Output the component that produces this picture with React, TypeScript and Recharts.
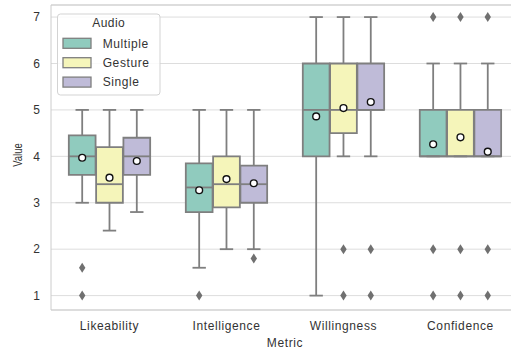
import React from 'react';
import {
  ComposedChart,
  XAxis,
  YAxis,
  CartesianGrid,
  ReferenceArea,
  ReferenceLine,
  Scatter,
} from 'recharts';

// categories and hue levels
const metrics = ['Likeability', 'Intelligence', 'Willingness', 'Confidence'];
const audioTypes = ['Multiple', 'Gesture', 'Single'];
const audioColors = ['#90cbbe', '#f5f5ba', '#bfbbd8'];
const yTicks = [1, 2, 3, 4, 5, 6, 7];

// box stats, one row per audio type, one value per metric
const whiskerLow = [
  [3.0, 1.6, 1.0, 4.0],
  [2.4, 2.0, 4.0, 4.0],
  [2.8, 2.0, 4.0, 4.0],
];
const quartile1 = [
  [3.6, 2.8, 4.0, 4.0],
  [3.0, 2.9, 4.5, 4.0],
  [3.6, 3.0, 5.0, 4.0],
];
const medians = [
  [4.0, 3.33, 5.0, 4.0],
  [3.4, 3.4, 5.0, 4.0],
  [4.0, 3.4, 5.0, 4.0],
];
const quartile3 = [
  [4.45, 3.85, 6.0, 5.0],
  [4.2, 4.0, 6.0, 5.0],
  [4.4, 3.8, 6.0, 5.0],
];
const whiskerHigh = [
  [5.0, 5.0, 7.0, 6.0],
  [5.0, 5.0, 7.0, 6.0],
  [5.0, 5.0, 7.0, 6.0],
];
const means = [
  [3.97, 3.27, 4.86, 4.26],
  [3.54, 3.51, 5.04, 4.41],
  [3.9, 3.42, 5.17, 4.1],
];
const outliers = [
  [[1.6, 1.0], [1.0], [], [7, 2, 1]],
  [[], [], [2, 1], [7, 2, 1]],
  [[], [1.8], [2, 1], [7, 2, 1]],
];

const LINE = '#7f7f7f';
const FONT = '"Liberation Sans", Arial, sans-serif';
const HUE_STEP = 0.7 / 3;
const BOX_HALF = (HUE_STEP * 0.98) / 2;
const CAP_HALF = BOX_HALF / 2;

const boxes = audioTypes.flatMap((name, h) =>
  metrics.map((m, i) => ({
    id: `${h}-${i}`,
    x: i + (h - 1) * HUE_STEP,
    color: audioColors[h],
    low: whiskerLow[h][i],
    q1: quartile1[h][i],
    med: medians[h][i],
    q3: quartile3[h][i],
    high: whiskerHigh[h][i],
  }))
);

const meanPoints = audioTypes.flatMap((name, h) =>
  metrics.map((m, i) => ({ x: i + (h - 1) * HUE_STEP, y: means[h][i] }))
);

const outlierPoints = audioTypes.flatMap((name, h) =>
  metrics.flatMap((m, i) =>
    outliers[h][i].map((v) => ({ x: i + (h - 1) * HUE_STEP, y: v }))
  )
);

const Diamond = (props: any) => {
  const { cx, cy } = props;
  return (
    <path
      d={`M${cx},${cy - 5} L${cx + 3.2},${cy} L${cx},${cy + 5} L${cx - 3.2},${cy} Z`}
      fill="#707070"
    />
  );
};

const MeanDot = (props: any) => (
  <circle cx={props.cx} cy={props.cy} r={3.4} fill="#fff" stroke="#111" strokeWidth={1.4} />
);

export default function App() {
  return (
    <div style={{ position: 'absolute', left: 0, top: 0, width: 511, height: 351, background: '#fff' }}>
      <ComposedChart width={511} height={351} margin={{ top: 5, right: 0, left: 0, bottom: 0 }}>
        <CartesianGrid vertical={false} stroke="#dddddd" />
        <XAxis
          type="number"
          dataKey="x"
          domain={[-0.5, 3.432]}
          allowDataOverflow
          ticks={[0, 1, 2, 3]}
          interval={0}
          tickFormatter={(v) => metrics[v]}
          height={41}
          tickSize={0}
          tickMargin={11}
          axisLine={{ stroke: '#cccccc' }}
          tick={{ fontSize: 12, fill: '#333', fontFamily: FONT, letterSpacing: 0.6 }}
        />
        <YAxis
          type="number"
          dataKey="y"
          domain={[0.69, 7.26]}
          allowDataOverflow
          ticks={yTicks}
          width={51}
          tickSize={0}
          tickMargin={11}
          axisLine={{ stroke: '#cccccc' }}
          tick={{ fontSize: 12, fill: '#333', fontFamily: FONT }}
        />
        <ReferenceLine y={7.26} stroke="#cccccc" />

        {/* boxes */}
        {boxes.map((b) => (
          <ReferenceArea
            key={'box' + b.id}
            x1={b.x - BOX_HALF}
            x2={b.x + BOX_HALF}
            y1={b.q1}
            y2={b.q3}
            fill={b.color}
            fillOpacity={1}
            stroke={LINE}
            strokeWidth={1.8}
            ifOverflow="visible"
          />
        ))}

        {/* whiskers and caps */}
        {boxes.map((b) => (
          <ReferenceLine
            key={'wu' + b.id}
            segment={[{ x: b.x, y: b.q3 }, { x: b.x, y: b.high }]}
            stroke={LINE}
            strokeWidth={1.8}
            ifOverflow="visible"
          />
        ))}
        {boxes.map((b) => (
          <ReferenceLine
            key={'wl' + b.id}
            segment={[{ x: b.x, y: b.q1 }, { x: b.x, y: b.low }]}
            stroke={LINE}
            strokeWidth={1.8}
            ifOverflow="visible"
          />
        ))}
        {boxes.map((b) => (
          <ReferenceLine
            key={'cu' + b.id}
            segment={[{ x: b.x - CAP_HALF, y: b.high }, { x: b.x + CAP_HALF, y: b.high }]}
            stroke={LINE}
            strokeWidth={1.8}
            ifOverflow="visible"
          />
        ))}
        {boxes.map((b) => (
          <ReferenceLine
            key={'cl' + b.id}
            segment={[{ x: b.x - CAP_HALF, y: b.low }, { x: b.x + CAP_HALF, y: b.low }]}
            stroke={LINE}
            strokeWidth={1.8}
            ifOverflow="visible"
          />
        ))}
        {/* medians */}
        {boxes.map((b) => (
          <ReferenceLine
            key={'md' + b.id}
            segment={[{ x: b.x - BOX_HALF, y: b.med }, { x: b.x + BOX_HALF, y: b.med }]}
            stroke={LINE}
            strokeWidth={1.8}
            ifOverflow="visible"
          />
        ))}

        <Scatter data={outlierPoints} shape={Diamond} isAnimationActive={false} />
        <Scatter data={meanPoints} shape={MeanDot} isAnimationActive={false} />
      </ComposedChart>

      {/* axis titles and legend */}
      <svg
        width={511}
        height={351}
        style={{ position: 'absolute', left: 0, top: 0, pointerEvents: 'none' }}
        fontFamily={FONT}
      >
        <text x={285} y={346.5} textAnchor="middle" fontSize={12} fill="#333" letterSpacing={0.6}>
          Metric
        </text>
        <text
          transform="translate(22,155) rotate(-90) scale(1,1.34)"
          textAnchor="middle"
          fontSize={9.5}
          fill="#333"
        >
          Value
        </text>
        <rect x={57.5} y={14} width={102.5} height={81} rx={3} fill="#fff" fillOpacity={0.85} stroke="#d3d3d3" />
        <text x={108.7} y={27} textAnchor="middle" fontSize={12} fill="#333" letterSpacing={0.4}>
          Audio
        </text>
        {audioTypes.map((name, h) => (
          <g key={name}>
            <rect
              x={63}
              y={38.3 + h * 19.4}
              width={28}
              height={10}
              fill={audioColors[h]}
              stroke={LINE}
              strokeWidth={1.3}
            />
            <text x={102.7} y={47.6 + h * 19.4} fontSize={12} fill="#333" letterSpacing={0.6}>
              {name}
            </text>
          </g>
        ))}
      </svg>
    </div>
  );
}
